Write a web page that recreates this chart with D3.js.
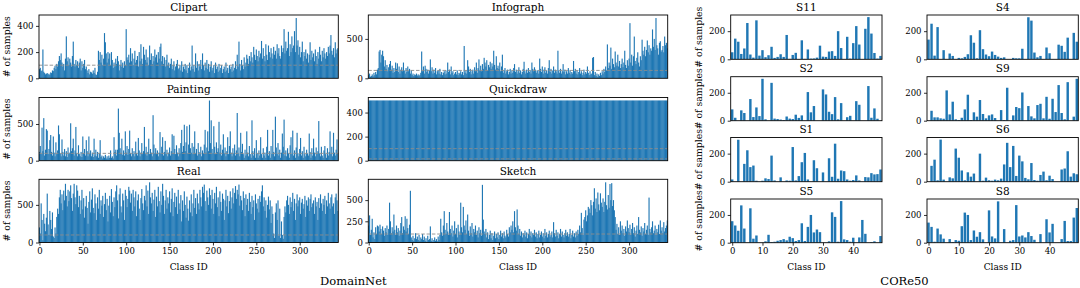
<!DOCTYPE html>
<html>
<head>
<meta charset="utf-8">
<script src="https://cdn.jsdelivr.net/npm/d3@7"></script>
<style>
  body { margin: 0; background: #fff; }
  text { font-family: "DejaVu Serif", "Liberation Serif", serif; fill: #000; }
</style>
</head>
<body>
<div id="chart"></div>
<script>
const W = 1080, H = 288

// ---- DomainNet: samples per class (345 classes) ----
const domainTitles = ["Clipart", "Infograph", "Painting", "Quickdraw", "Real", "Sketch"]

const clipart = [
  70, 80, 55, 60, 220, 50, 40, 30, 35, 40, 30, 35, 25, 45, 40,
  60, 55, 80, 95, 70, 110, 90, 130, 170, 140, 190, 120, 90, 110, 60,
  150, 320, 130, 160, 100, 150, 120, 90, 170, 280, 110, 90, 140, 100, 130,
  80, 120, 150, 60, 130, 80, 110, 140, 70, 90, 60, 40, 70, 30, 50,
  45, 35, 60, 40, 80, 30, 25, 50, 210, 140, 200, 120, 180, 100, 150,
  345, 275, 190, 120, 200, 150, 190, 100, 200, 140, 80, 120, 90, 150, 110,
  170, 130, 60, 100, 140, 90, 120, 80, 130, 100, 375, 160, 140, 180, 120,
  230, 130, 190, 100, 150, 210, 120, 140, 170, 90, 200, 130, 260, 150, 110,
  240, 180, 140, 220, 120, 160, 100, 250, 140, 190, 110, 170, 130, 220, 160,
  180, 120, 200, 150, 240, 265, 130, 170, 110, 160, 90, 140, 180, 100, 120,
  80, 110, 150, 70, 100, 130, 60, 90, 110, 140, 70, 80, 100, 60, 130,
  50, 90, 70, 110, 60, 100, 40, 80, 120, 60, 90, 250, 70, 100, 50,
  190, 80, 130, 60, 110, 90, 140, 70, 190, 100, 60, 120, 80, 140, 70,
  110, 50, 90, 130, 60, 80, 100, 40, 120, 70, 90, 50, 110, 60, 80,
  100, 40, 70, 90, 50, 120, 60, 80, 40, 100, 70, 90, 50, 110, 60,
  80, 130, 70, 180, 90, 280, 110, 60, 140, 100, 70, 160, 90, 120, 180,
  150, 110, 170, 130, 200, 160, 120, 240, 180, 140, 220, 170, 130, 210, 160,
  190, 285, 150, 230, 170, 130, 260, 180, 140, 250, 200, 160, 230, 190, 150,
  240, 180, 210, 150, 260, 190, 230, 170, 150, 250, 200, 230, 375, 190, 280,
  210, 230, 355, 170, 260, 200, 320, 230, 250, 360, 200, 460, 250, 290, 180,
  240, 160, 200, 280, 130, 200, 170, 220, 150, 190, 120, 180, 275, 140, 210,
  160, 190, 130, 220, 170, 110, 200, 150, 240, 180, 130, 210, 160, 230, 190,
  150, 200, 170, 240, 190, 250, 330, 210, 180, 230, 160, 275, 190, 220, 230
]

const infograph = [
  40, 60, 20, 30, 50, 25, 70, 40, 80, 50, 110, 130, 340, 360, 200,
  300, 350, 280, 150, 230, 120, 170, 90, 140, 180, 220, 110, 160, 70, 130,
  80, 200, 120, 190, 80, 150, 60, 110, 140, 90, 200, 100, 60, 130, 80,
  150, 90, 120, 60, 100, 40, 60, 30, 50, 40, 60, 35, 50, 30, 45,
  70, 340, 90, 150, 60, 160, 120, 80, 110, 60, 100, 240, 90, 140, 60,
  110, 70, 130, 50, 90, 100, 60, 120, 50, 80, 40, 70, 90, 50, 100,
  60, 200, 80, 110, 50, 150, 70, 90, 40, 60, 80, 50, 100, 40, 70,
  60, 90, 50, 80, 40, 410, 70, 100, 60, 230, 150, 80, 120, 50, 90,
  110, 60, 140, 90, 200, 70, 130, 240, 100, 160, 90, 180, 120, 260, 200,
  150, 230, 100, 170, 140, 210, 120, 190, 150, 350, 170, 110, 280, 130, 160,
  120, 200, 90, 150, 300, 70, 100, 130, 60, 90, 110, 50, 80, 120, 60,
  100, 70, 130, 180, 80, 110, 60, 90, 140, 70, 100, 50, 80, 120, 210,
  90, 60, 110, 70, 130, 80, 100, 60, 200, 120, 90, 140, 110, 70, 100,
  100, 60, 250, 120, 80, 150, 60, 110, 140, 70, 100, 60, 130, 230, 80,
  120, 60, 100, 150, 70, 110, 90, 60, 350, 100, 70, 120, 60, 90, 180,
  80, 110, 50, 90, 60, 130, 70, 100, 50, 80, 60, 220, 90, 120, 60,
  100, 50, 80, 130, 60, 90, 40, 70, 110, 50, 80, 60, 150, 70, 40,
  90, 50, 60, 260, 270, 40, 80, 30, 60, 20, 50, 30, 70, 40, 90,
  60, 120, 80, 150, 100, 430, 130, 200, 160, 390, 120, 250, 180, 140, 340,
  200, 160, 300, 150, 220, 130, 180, 250, 140, 200, 350, 170, 130, 230, 160,
  250, 700, 200, 300, 160, 280, 530, 220, 180, 260, 330, 200, 150, 280, 230,
  490, 350, 300, 400, 280, 360, 480, 330, 420, 300, 380, 350, 620, 400, 500,
  360, 765, 420, 380, 300, 450, 470, 340, 360, 410, 330, 530, 420, 450, 380
]

const painting = [
  120, 200, 90, 450, 130, 580, 70, 150, 430, 410, 90, 160, 280, 350, 120,
  70, 330, 110, 60, 250, 90, 140, 480, 360, 100, 60, 290, 120, 70, 160,
  60, 130, 50, 180, 90, 110, 510, 130, 170, 300, 70, 140, 460, 100, 60,
  210, 90, 60, 120, 50, 330, 100, 160, 70, 280, 130, 60, 330, 90, 140,
  60, 110, 50, 300, 70, 150, 60, 120, 40, 100, 280, 50, 70, 30, 60,
  40, 80, 30, 60, 30, 70, 40, 140, 40, 60, 30, 320, 120, 150, 70,
  150, 710, 380, 170, 100, 300, 80, 140, 70, 400, 110, 200, 80, 160, 410,
  100, 60, 170, 90, 130, 60, 260, 100, 70, 310, 140, 60, 110, 240, 90,
  130, 460, 90, 190, 70, 120, 300, 90, 160, 110, 60, 620, 220, 100, 170,
  90, 140, 60, 110, 390, 100, 190, 320, 70, 120, 270, 90, 150, 60, 110,
  180, 70, 130, 360, 100, 340, 160, 90, 210, 110, 60, 170, 100, 240, 420,
  120, 200, 490, 130, 250, 470, 100, 220, 490, 170, 110, 240, 90, 190, 400,
  100, 160, 70, 240, 120, 90, 190, 60, 140, 100, 220, 420, 110, 180, 400,
  130, 820, 240, 550, 160, 100, 470, 190, 90, 250, 120, 170, 530, 110, 220,
  70, 150, 360, 100, 180, 60, 130, 320, 90, 200, 400, 110, 60, 170, 100,
  220, 70, 140, 650, 100, 180, 60, 380, 120, 230, 90, 40, 150, 70, 400,
  110, 60, 200, 90, 40, 550, 130, 70, 170, 40, 280, 100, 40, 140, 70,
  320, 90, 40, 170, 70, 110, 40, 190, 420, 70, 130, 40, 200, 90, 420,
  120, 60, 600, 180, 90, 240, 70, 150, 40, 110, 370, 190, 560, 70, 140,
  60, 170, 100, 40, 210, 320, 90, 410, 70, 140, 40, 180, 380, 100, 60,
  160, 310, 70, 130, 40, 190, 90, 60, 150, 100, 70, 370, 120, 40, 170,
  70, 300, 110, 60, 180, 90, 130, 540, 100, 60, 190, 70, 40, 140, 200,
  90, 40, 170, 70, 120, 400, 90, 190, 60, 380, 110, 70, 150, 290, 100
]

const quickdraw = [
  500, 500, 500, 500, 500, 500, 500, 500, 500, 500, 500, 500, 500, 500, 500,
  500, 500, 500, 500, 500, 500, 500, 500, 500, 500, 500, 500, 500, 500, 500,
  500, 500, 500, 500, 500, 500, 500, 500, 500, 500, 500, 500, 500, 500, 500,
  500, 500, 500, 500, 500, 500, 500, 500, 500, 500, 500, 500, 500, 500, 500,
  500, 500, 500, 500, 500, 500, 500, 500, 500, 500, 500, 500, 500, 500, 500,
  500, 500, 500, 500, 500, 500, 500, 500, 500, 500, 500, 500, 500, 500, 500,
  500, 500, 500, 500, 500, 500, 500, 500, 500, 500, 500, 500, 500, 500, 500,
  500, 500, 500, 500, 500, 500, 500, 500, 500, 500, 500, 500, 500, 500, 500,
  500, 500, 500, 500, 500, 500, 500, 500, 500, 500, 500, 500, 500, 500, 500,
  500, 500, 500, 500, 500, 500, 500, 500, 500, 500, 500, 500, 500, 500, 500,
  500, 500, 500, 500, 500, 500, 500, 500, 500, 500, 500, 500, 500, 500, 500,
  500, 500, 500, 500, 500, 500, 500, 500, 500, 500, 500, 500, 500, 500, 500,
  500, 500, 500, 500, 500, 500, 500, 500, 500, 500, 500, 500, 500, 500, 500,
  500, 500, 500, 500, 500, 500, 500, 500, 500, 500, 500, 500, 500, 500, 500,
  500, 500, 500, 500, 500, 500, 500, 500, 500, 500, 500, 500, 500, 500, 500,
  500, 500, 500, 500, 500, 500, 500, 500, 500, 500, 500, 500, 500, 500, 500,
  500, 500, 500, 500, 500, 500, 500, 500, 500, 500, 500, 500, 500, 500, 500,
  500, 500, 500, 500, 500, 500, 500, 500, 500, 500, 500, 500, 500, 500, 500,
  500, 500, 500, 500, 500, 500, 500, 500, 500, 500, 500, 500, 500, 500, 500,
  500, 500, 500, 500, 500, 500, 500, 500, 500, 500, 500, 500, 500, 500, 500,
  500, 500, 500, 500, 500, 500, 500, 500, 500, 500, 500, 500, 500, 500, 500,
  500, 500, 500, 500, 500, 500, 500, 500, 500, 500, 500, 500, 500, 500, 500,
  500, 500, 500, 500, 500, 500, 500, 500, 500, 500, 500, 500, 500, 500, 500
]

const real = [
  200, 120, 520, 300, 30, 380, 250, 150, 330, 650, 240, 100, 420, 300, 180,
  400, 80, 60, 200, 120, 340, 450, 380, 600, 700, 520, 640, 430, 690, 560,
  780, 620, 480, 700, 550, 680, 760, 590, 420, 650, 780, 600, 510, 760, 690,
  470, 620, 380, 560, 700, 440, 590, 330, 480, 620, 460, 250, 540, 680, 400,
  570, 720, 460, 390, 640, 520, 300, 600, 450, 700, 380, 560, 490, 620, 340,
  510, 660, 430, 580, 280, 490, 620, 400, 710, 540, 350, 600, 470, 680, 760,
  560, 320, 640, 720, 480, 400, 650, 560, 300, 700, 620, 470, 580, 740, 690,
  530, 650, 420, 700, 600, 480, 680, 350, 560, 640, 450, 300, 590, 710, 520,
  430, 620, 560, 760, 480, 690, 380, 800, 600, 520, 660, 420, 570, 700, 340,
  610, 480, 740, 550, 400, 680, 500, 780, 620, 380, 560, 700, 450, 600, 520,
  680, 400, 580, 720, 350, 540, 660, 470, 610, 380, 700, 520, 440, 630, 280,
  560, 420, 680, 500, 330, 610, 450, 290, 560, 400, 640, 350, 520, 700, 460,
  590, 380, 650, 520, 440, 700, 600, 480, 740, 660, 770, 550, 420, 690, 600,
  500, 720, 630, 450, 700, 580, 380, 660, 520, 740, 470, 600, 350, 680, 540,
  420, 650, 580, 300, 560, 700, 480, 620, 390, 550, 680, 450, 600, 720, 520,
  660, 750, 580, 700, 640, 770, 490, 620, 560, 430, 680, 590, 350, 640, 500,
  580, 420, 660, 540, 380, 620, 470, 560, 300, 640, 520, 450, 580, 400, 620,
  540, 680, 760, 480, 600, 420, 560, 330, 500, 610, 440, 560, 260, 480, 380,
  120, 60, 400, 520, 300, 560, 90, 450, 60, 280, 100, 50, 340, 480, 400,
  560, 620, 500, 380, 600, 470, 540, 660, 420, 580, 300, 520, 640, 480, 560,
  600, 380, 530, 580, 450, 510, 620, 340, 560, 490, 600, 420, 580, 640, 470,
  520, 560, 380, 600, 480, 540, 300, 590, 460, 640, 520, 420, 580, 500, 620,
  380, 560, 480, 660, 520, 450, 600, 640, 480, 520, 380, 600, 650, 560, 420
]

const sketch = [
  200, 320, 90, 150, 280, 60, 120, 40, 180, 100, 200, 190, 130, 210, 160,
  100, 190, 140, 80, 170, 120, 200, 90, 160, 470, 250, 110, 180, 130, 330,
  150, 90, 200, 120, 170, 80, 140, 230, 300, 110, 190, 150, 310, 130, 280,
  170, 100, 210, 610, 60, 30, 80, 20, 50, 110, 40, 70, 30, 90, 20,
  60, 40, 100, 30, 70, 20, 50, 10, 80, 30, 40, 190, 20, 50, 10,
  30, 60, 20, 40, 15, 70, 30, 90, 280, 120, 80, 200, 370, 150, 100,
  230, 130, 90, 360, 160, 110, 200, 70, 140, 250, 100, 170, 60, 210, 130,
  90, 470, 180, 120, 420, 200, 150, 260, 100, 330, 140, 80, 190, 110, 230,
  70, 160, 120, 200, 90, 140, 60, 180, 110, 150, 80, 680, 270, 130, 100,
  160, 60, 120, 40, 90, 140, 50, 110, 30, 80, 130, 50, 100, 60, 120,
  40, 90, 140, 70, 110, 50, 130, 80, 60, 150, 100, 70, 180, 120, 200,
  150, 250, 120, 370, 180, 140, 390, 200, 100, 160, 80, 130, 60, 110, 90,
  140, 70, 120, 50, 100, 160, 80, 130, 60, 110, 90, 150, 70, 120, 50,
  100, 140, 60, 90, 130, 70, 110, 50, 160, 80, 120, 60, 100, 140, 70,
  90, 130, 60, 240, 110, 70, 150, 80, 120, 50, 100, 160, 70, 130, 90,
  60, 110, 150, 80, 120, 70, 100, 160, 50, 90, 140, 70, 110, 60, 130,
  80, 150, 100, 200, 120, 350, 170, 90, 270, 300, 380, 250, 320, 420, 400,
  350, 500, 440, 320, 480, 640, 400, 520, 360, 590, 450, 380, 580, 470, 420,
  520, 360, 480, 710, 440, 390, 560, 410, 690, 500, 700, 430, 500, 380, 300,
  150, 220, 100, 180, 90, 250, 140, 200, 110, 160, 80, 190, 130, 260, 170,
  120, 210, 90, 160, 230, 110, 180, 70, 140, 200, 100, 300, 150, 120, 190,
  80, 170, 130, 230, 100, 150, 200, 90, 530, 160, 120, 180, 250, 110, 140,
  200, 90, 160, 120, 210, 100, 260, 140, 180, 110, 240, 130, 170, 200, 260
]

const domainYTicks = [[0, 200, 400], [0, 500], [0, 500], [0, 200, 400], [0, 500], [0, 250, 500]]
const classTicks = [0, 50, 100, 150, 200, 250, 300]
const threshold = 100
const quickdrawLow = 15

// ---- CORe50: samples per object (50 classes) per session ----
const sessionTitles = ["S11", "S4", "S2", "S9", "S1", "S6", "S5", "S8"]
const s11 = [50, 147, 125, 38, 77, 258, 34, 12, 277, 26, 65, 15, 29, 89, 10, 17, 36, 17, 173, 3, 31, 46, 2, 135, 3, 70, 5, 6, 12, 97, 19, 17, 55, 58, 24, 200, 80, 0, 160, 5, 115, 236, 105, 0, 217, 300, 183, 45, 5, 24]
const s4 = [140, 253, 26, 229, 0, 65, 0, 41, 24, 0, 10, 7, 17, 36, 171, 118, 7, 207, 72, 34, 22, 55, 31, 19, 10, 14, 0, 0, 10, 7, 7, 75, 0, 299, 275, 48, 14, 24, 0, 84, 43, 0, 0, 104, 96, 53, 154, 0, 188, 125]
const s2 = [81, 21, 0, 74, 55, 0, 155, 26, 95, 33, 300, 10, 0, 271, 15, 12, 8, 5, 30, 15, 12, 43, 20, 38, 0, 205, 60, 105, 0, 0, 224, 188, 64, 47, 169, 10, 126, 0, 25, 35, 0, 140, 114, 0, 0, 248, 21, 88, 14, 0]
const s9 = [0, 71, 24, 24, 17, 14, 217, 45, 136, 10, 5, 21, 81, 186, 5, 60, 29, 148, 48, 17, 38, 45, 19, 0, 76, 5, 236, 0, 38, 98, 90, 202, 0, 105, 31, 17, 112, 121, 17, 171, 14, 157, 62, 255, 55, 10, 276, 0, 29, 300]
const s1 = [16, 0, 299, 0, 127, 224, 104, 115, 7, 0, 7, 24, 19, 186, 9, 0, 31, 0, 9, 7, 247, 9, 40, 139, 205, 16, 0, 153, 96, 0, 66, 0, 167, 35, 271, 21, 80, 75, 16, 7, 12, 45, 9, 0, 33, 31, 61, 52, 54, 87]
const s6 = [0, 113, 157, 10, 300, 15, 0, 31, 24, 236, 171, 80, 10, 67, 36, 58, 0, 200, 7, 29, 10, 7, 15, 10, 22, 123, 277, 104, 255, 41, 186, 145, 27, 17, 133, 12, 7, 48, 72, 10, 43, 19, 0, 0, 87, 94, 217, 36, 60, 53]
const s5 = [155, 124, 86, 269, 102, 0, 248, 29, 52, 0, 0, 10, 57, 5, 7, 14, 19, 26, 17, 43, 33, 12, 19, 140, 12, 114, 200, 74, 95, 76, 0, 0, 10, 219, 186, 7, 300, 24, 19, 7, 36, 0, 38, 164, 64, 0, 5, 10, 0, 48]
const s8 = [145, 114, 7, 102, 60, 29, 0, 26, 5, 19, 14, 119, 217, 200, 19, 88, 43, 76, 24, 0, 233, 45, 31, 298, 0, 98, 0, 14, 19, 271, 45, 52, 38, 76, 48, 21, 0, 62, 0, 169, 74, 136, 0, 0, 26, 157, 12, 12, 181, 250]
const sessionXTicks = [0, 10, 20, 30, 40]
const sessionYTicks = [0, 200]

// ---- layout ----
const blue = "#1f77b4"
const tickFont = 8.5, labelFont = 9, ylabelFont = 9.3, titleFont = 10.5, groupFont = 11.5
const serif = "DejaVu Serif"

const svg = d3.select("#chart").append("svg")
    .attr("width", W).attr("height", H)
    .attr("viewBox", [0, 0, W, H])
    .style("display", "block")

//draws one bar panel inside box {x0,x1,y0,y1}
function drawPanel(values, box, o) {
    const g = svg.append("g")
    const x = d3.scaleLinear().domain([-0.5, values.length - 0.5]).range([box.x0, box.x1])
    const y = d3.scaleLinear().domain([0, o.ymax]).range([box.y1, box.y0])
    const frac = o.barFrac
    const bw = x(frac) - x(0)

    //bars, clipped to the axes box
    const clipId = "clip-" + o.title
    g.append("clipPath").attr("id", clipId)
        .append("rect")
        .attr("x", box.x0).attr("y", box.y0)
        .attr("width", box.x1 - box.x0).attr("height", box.y1 - box.y0)

    g.append("g").attr("clip-path", `url(#${clipId})`)
        .selectAll("rect").data(values).join("rect")
        .attr("x", (d, i) => x(i - frac / 2))
        .attr("y", d => y(d))
        .attr("width", bw)
        .attr("height", d => y(0) - y(d))
        .attr("fill", blue)

    //dashed reference lines
    for (const v of (o.refLines || [])) {
        g.append("line")
            .attr("x1", box.x0).attr("x2", box.x1)
            .attr("y1", y(v)).attr("y2", y(v))
            .attr("stroke", "#8c8c8c").attr("stroke-width", 0.9)
            .attr("stroke-dasharray", "3.5,1.8")
    }

    //y axis
    const ya = g.append("g")
        .attr("transform", `translate(${box.x0},0)`)
        .call(d3.axisLeft(y).tickValues(o.yTicks).tickSize(3).tickPadding(2.5))
    ya.select(".domain").remove()
    ya.attr("font-family", serif)
    ya.selectAll("text").attr("font-size", tickFont)
    ya.selectAll("line").attr("stroke", "#000").attr("stroke-width", 0.8)

    //x axis only on bottom row
    if (o.xTicks) {
        const xa = g.append("g")
            .attr("transform", `translate(0,${box.y1})`)
            .call(d3.axisBottom(x).tickValues(o.xTicks).tickSize(3).tickPadding(2))
        xa.select(".domain").remove()
        xa.attr("font-family", serif)
        xa.selectAll("text").attr("font-size", tickFont)
        xa.selectAll("line").attr("stroke", "#000").attr("stroke-width", 0.8)

        g.append("text")
            .attr("x", (box.x0 + box.x1) / 2).attr("y", box.y1 + 27.5)
            .attr("text-anchor", "middle").attr("font-size", labelFont)
            .text("Class ID")
    }

    //frame
    g.append("rect")
        .attr("x", box.x0).attr("y", box.y0)
        .attr("width", box.x1 - box.x0).attr("height", box.y1 - box.y0)
        .attr("fill", "none").attr("stroke", "#000").attr("stroke-width", 0.9)

    g.append("text")
        .attr("x", (box.x0 + box.x1) / 2).attr("y", box.y0 - 4.5)
        .attr("text-anchor", "middle").attr("font-size", titleFont)
        .text(o.title)

    if (o.ylabelX != null) {
        const cy = (box.y0 + box.y1) / 2
        g.append("text")
            .attr("transform", `translate(${o.ylabelX},${cy}) rotate(-90)`)
            .attr("text-anchor", "middle").attr("font-size", ylabelFont)
            .text("# of samples")
    }
}

// DomainNet grid 3x2
const dnCols = [[39, 338.3], [368.3, 667.7]]
const dnRows = [[15, 78.3], [97.5, 160.7], [179.3, 242.5]]
const domainData = [clipart, infograph, painting, quickdraw, real, sketch]

domainData.forEach((vals, k) => {
    const r = Math.floor(k / 2), c = k % 2
    const refs = domainTitles[k] === "Quickdraw" ? [threshold, quickdrawLow] : [threshold]
    drawPanel(vals, { x0: dnCols[c][0], x1: dnCols[c][1], y0: dnRows[r][0], y1: dnRows[r][1] }, {
        ymax: d3.max(vals) * 1.05,
        barFrac: 1.3,
        yTicks: domainYTicks[k],
        xTicks: r === 2 ? classTicks : null,
        title: domainTitles[k],
        refLines: refs,
        ylabelX: c === 0 ? 9.5 : null
    })
})

// CORe50 grid 4x2
const coCols = [[730.7, 882], [927, 1078.3]]
const coRows = [[15, 59.3], [76.7, 120.7], [137.5, 181.7], [199, 242.7]]
const sessionData = [s11, s4, s2, s9, s1, s6, s5, s8]
const coMax = d3.max(sessionData, s => d3.max(s)) * 1.05

sessionData.forEach((vals, k) => {
    const r = Math.floor(k / 2), c = k % 2
    drawPanel(vals, { x0: coCols[c][0], x1: coCols[c][1], y0: coRows[r][0], y1: coRows[r][1] }, {
        ymax: coMax,
        barFrac: 0.8,
        yTicks: sessionYTicks,
        xTicks: r === 3 ? sessionXTicks : null,
        title: sessionTitles[k],
        refLines: [],
        ylabelX: c === 0 ? 701.5 : null
    })
})

// group captions
svg.append("text").attr("x", (39 + 667.7) / 2).attr("y", 285)
    .attr("text-anchor", "middle").attr("font-size", groupFont).text("DomainNet")
svg.append("text").attr("x", (730.7 + 1078.3) / 2).attr("y", 285)
    .attr("text-anchor", "middle").attr("font-size", groupFont).text("CORe50")
</script>
</body>
</html>
